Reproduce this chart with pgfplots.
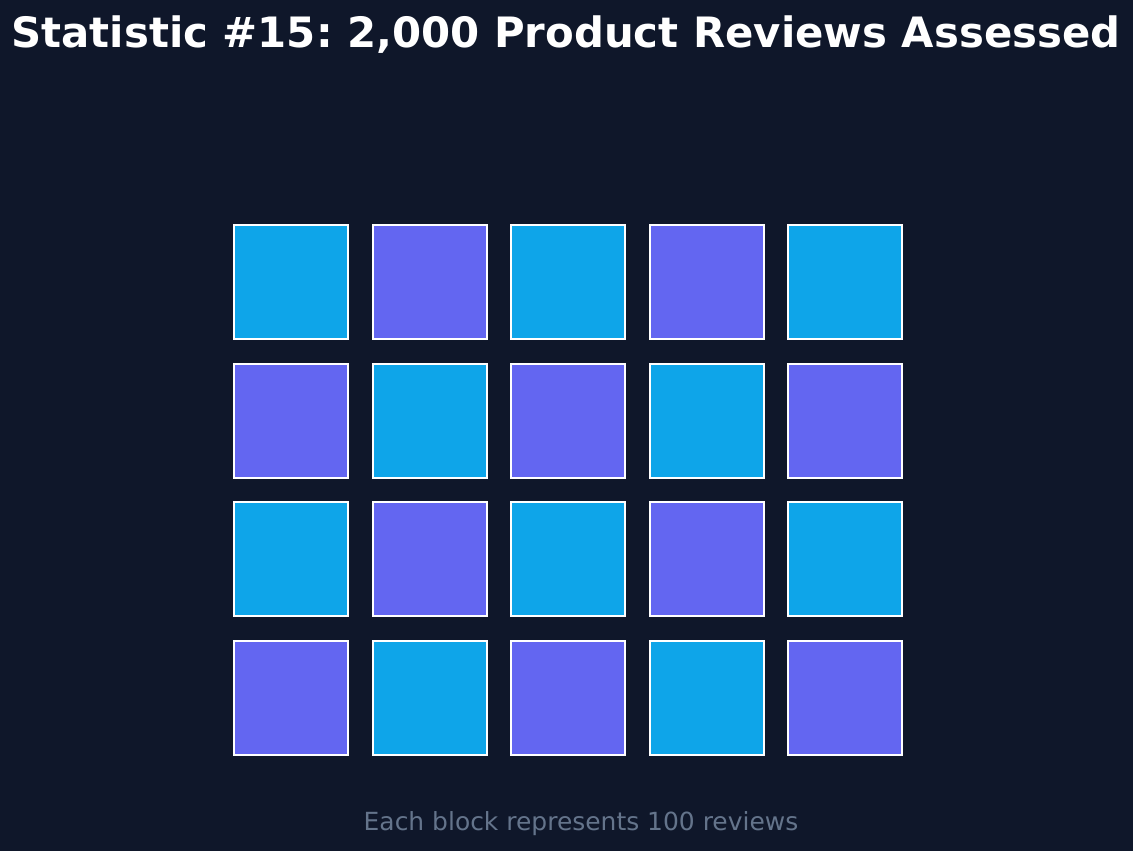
\documentclass[border=0pt]{standalone}
\usepackage{pgfplots}
\pgfplotsset{compat=1.18}
\usepackage{fontspec}
\setmainfont{DejaVu Sans}
\definecolor{bg}{HTML}{0F172A}
\definecolor{cblue}{HTML}{0EA5E9}
\definecolor{cpurple}{HTML}{6366F1}
\definecolor{subgray}{HTML}{64748B}
\frenchspacing
\begin{document}
\begin{tikzpicture}
\useasboundingbox (0,0) rectangle (11.33cm,8.51cm);
\fill[bg] (0,0) rectangle (11.33cm,8.51cm);
\begin{axis}[
  scale only axis, width=11.33cm, height=8.51cm,
  xmin=0, xmax=1133, ymin=0, ymax=851,
  hide axis, clip=false,
]
% blue blocks
\addplot[only marks, mark=square*, mark size=0.57cm,
  mark options={fill=cblue, draw=white, line width=0.02cm}]
  coordinates {
  (291,569) (568.5,569) (845.5,569)
  (430,430) (707,430)
  (291,291.5) (568.5,291.5) (845.5,291.5)
  (430,153) (707,153)
  };
% purple blocks
\addplot[only marks, mark=square*, mark size=0.57cm,
  mark options={fill=cpurple, draw=white, line width=0.02cm}]
  coordinates {
  (430,569) (707,569)
  (291,430) (568.5,430) (845.5,430)
  (430,291.5) (707,291.5)
  (291,153) (568.5,153) (845.5,153)
  };
\node[anchor=base, text=white, font=\fontsize{11.9}{15}\selectfont\bfseries]
  at (axis cs:566,803) {Statistic \#15: 2,000 Product Reviews Assessed};
\node[anchor=base, text=subgray, font=\fontsize{7.1}{9}\selectfont]
  at (axis cs:581,20) {Each block represents 100 reviews};
\end{axis}
\end{tikzpicture}
\end{document}
